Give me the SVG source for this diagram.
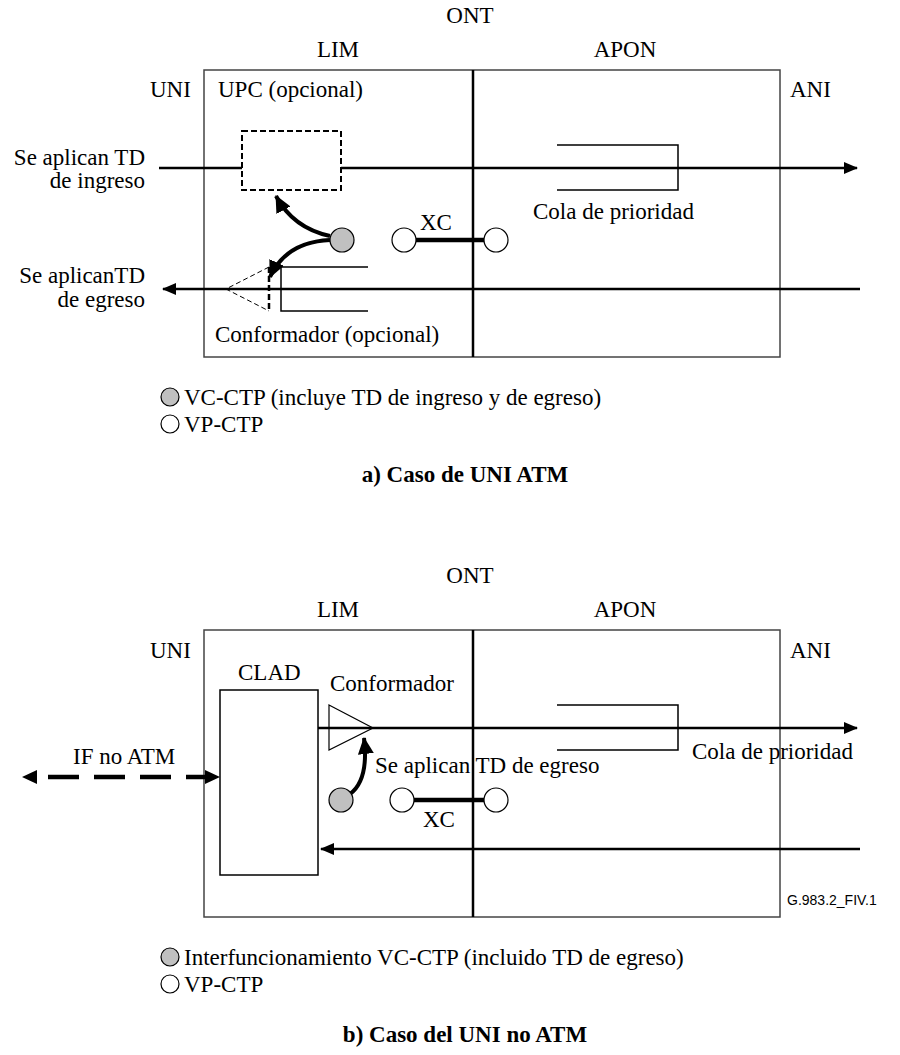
<svg xmlns="http://www.w3.org/2000/svg" width="900" height="1055" viewBox="0 0 900 1055">
<style>
text{font-family:"Liberation Serif","Times New Roman",serif;font-size:23px;fill:#000}
.cap{font-weight:bold}
.sm{font-family:"Liberation Sans",Arial,sans-serif;font-size:14px}
.frame{fill:none;stroke:#444;stroke-width:1.5}
.div{stroke:#000;stroke-width:2.5}
.flow{stroke:#000;stroke-width:2.5;fill:none}
.thin{stroke:#000;stroke-width:1.5;fill:none}
.xc{stroke:#000;stroke-width:4.5}
.vc{fill:#c0c0c0;stroke:#000;stroke-width:1.2}
.vp{fill:#fff;stroke:#000;stroke-width:1.2}
.curve{stroke:#000;stroke-width:4;fill:none}
</style>
<defs>
<marker id="ah" markerUnits="userSpaceOnUse" markerWidth="14" markerHeight="14" viewBox="0 0 14 14" refX="13" refY="7" orient="auto">
<path d="M0,1 L14,7 L0,13 Z" fill="#000"/>
</marker>
<marker id="ahc" markerUnits="userSpaceOnUse" markerWidth="18" markerHeight="18" viewBox="0 0 18 18" refX="16" refY="9" orient="auto">
<path d="M0,1 L17,9 L0,17 Z" fill="#000"/>
</marker>
</defs>

<!-- ===== a) ===== -->
<g id="a-labels">
<text x="470" y="23" text-anchor="middle">ONT</text>
<text x="338" y="57" text-anchor="middle">LIM</text>
<text x="625" y="57" text-anchor="middle">APON</text>
<text x="150" y="97">UNI</text>
<text x="790" y="97">ANI</text>
</g>
<g id="a-ont">
<rect class="frame" x="204" y="70" width="576" height="287"/>
<line class="div" x1="473" y1="70" x2="473" y2="357"/>
<text x="218" y="97">UPC (opcional)</text>
</g>
<g id="a-connectors">
<line class="flow" x1="159" y1="168" x2="857" y2="168" marker-end="url(#ah)"/>
<line class="flow" x1="860" y1="289" x2="163" y2="289" marker-end="url(#ah)"/>
<line class="xc" x1="416" y1="240" x2="485" y2="240"/>
<path class="curve" d="M330,236 Q293,228 276,196" marker-end="url(#ahc)"/>
<path class="curve" d="M330,240 Q286,242 270,277" marker-end="url(#ahc)"/>
</g>
<g id="a-upc">
<rect x="242" y="131" width="99" height="59" fill="#fff" stroke="#000" stroke-width="2" stroke-dasharray="6,3"/>
</g>
<g id="a-conformador">
<path d="M269,267 L226,289 L269,311" fill="none" stroke="#000" stroke-width="1" stroke-dasharray="5,3"/>
<line x1="269" y1="267" x2="269" y2="311" stroke="#000" stroke-width="2.5" stroke-dasharray="6,3"/>
<path class="thin" d="M368,267 H281 V311 H368"/>
<text x="215" y="342">Conformador (opcional)</text>
</g>
<g id="a-queue">
<path class="thin" d="M557,145 H678 V190 H557"/>
<text x="533" y="219">Cola de prioridad</text>
</g>
<g id="a-vc"><circle class="vc" cx="342" cy="240" r="12"/></g>
<g id="a-vp1"><circle class="vp" cx="404" cy="240" r="12"/></g>
<g id="a-vp2"><circle class="vp" cx="496" cy="240" r="12"/></g>
<g id="a-texts">
<text x="420" y="230">XC</text>
<text x="145" y="165" text-anchor="end">Se aplican TD</text>
<text x="145" y="188" text-anchor="end">de ingreso</text>
<text x="145" y="283" text-anchor="end">Se aplicanTD</text>
<text x="145" y="307" text-anchor="end">de egreso</text>
</g>
<g id="a-legend">
<circle class="vc" cx="170" cy="397" r="9"/>
<text x="184" y="405">VC-CTP (incluye TD de ingreso y de egreso)</text>
<circle class="vp" cx="170" cy="424" r="9"/>
<text x="184" y="432">VP-CTP</text>
<text class="cap" x="465" y="482" text-anchor="middle">a) Caso de UNI ATM</text>
</g>

<!-- ===== b) ===== -->
<g id="b-labels">
<text x="470" y="583" text-anchor="middle">ONT</text>
<text x="338" y="617" text-anchor="middle">LIM</text>
<text x="625" y="617" text-anchor="middle">APON</text>
<text x="150" y="658">UNI</text>
<text x="790" y="658">ANI</text>
</g>
<g id="b-ont">
<rect class="frame" x="204" y="630" width="576" height="287"/>
<line class="div" x1="473" y1="630" x2="473" y2="917"/>
<text class="sm" x="787" y="905">G.983.2_FIV.1</text>
</g>
<g id="b-clad">
<rect class="thin" x="220" y="690" width="98" height="185"/>
<text x="238" y="680">CLAD</text>
</g>
<g id="b-connectors">
<line class="flow" x1="318" y1="728" x2="857" y2="728" marker-end="url(#ah)"/>
<line class="flow" x1="860" y1="849" x2="321" y2="849" marker-end="url(#ah)"/>
<line x1="36" y1="777" x2="208" y2="777" stroke="#000" stroke-width="4.5" stroke-dasharray="31,15" stroke-dashoffset="-12"/>
<path d="M22,777 L37,770 L37,784 Z" fill="#000"/>
<path d="M220,777 L205,770 L205,784 Z" fill="#000"/>
<line class="xc" x1="414" y1="800" x2="485" y2="800"/>
<path class="curve" d="M350,794 Q369,780 364,738" marker-end="url(#ahc)"/>
</g>
<g id="b-conformador">
<polygon points="329,705 373,728 329,750" fill="none" stroke="#000" stroke-width="1.2"/>
<text x="330" y="691">Conformador</text>
</g>
<g id="b-queue">
<path class="thin" d="M557,705 H678 V750 H557"/>
<text x="692" y="759">Cola de prioridad</text>
</g>
<g id="b-vc"><circle class="vc" cx="341" cy="800" r="12"/></g>
<g id="b-vp1"><circle class="vp" cx="402" cy="800" r="12"/></g>
<g id="b-vp2"><circle class="vp" cx="496" cy="800" r="12"/></g>
<g id="b-texts">
<text x="73" y="764">IF no ATM</text>
<text x="375" y="773">Se aplican TD de egreso</text>
<text x="423" y="827">XC</text>
</g>
<g id="b-legend">
<circle class="vc" cx="170" cy="957" r="9"/>
<text x="184" y="965">Interfuncionamiento VC-CTP (incluido TD de egreso)</text>
<circle class="vp" cx="170" cy="984" r="9"/>
<text x="184" y="992">VP-CTP</text>
<text class="cap" x="465" y="1042" text-anchor="middle">b) Caso del UNI no ATM</text>
</g>
</svg>
